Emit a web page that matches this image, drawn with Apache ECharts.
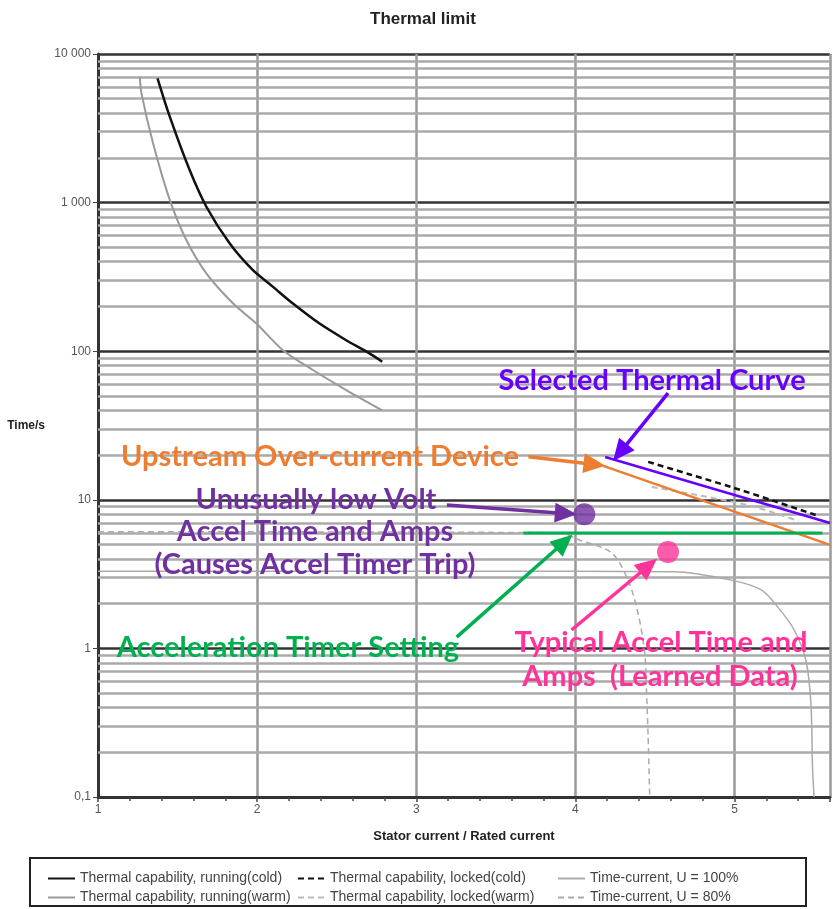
<!DOCTYPE html>
<html>
<head>
<meta charset="utf-8">
<script src="https://cdn.jsdelivr.net/npm/echarts@6/dist/echarts.min.js"></script>
<style>
html, body { margin: 0; padding: 0; background: #fff; }
#el { width: 833px; height: 909px; }
</style>
</head>
<body>
<div id="el"></div>
<script>
// axis ticks
const xTicks = [1, 2, 3, 4, 5];
const yTicks = [0.1, 1, 10, 100, 1000, 10000];
const yTickLabels = ['0,1', '1', '10', '100', '1 000', '10 000'];
const minorSteps = [2, 3, 4, 5, 6, 7, 8, 9];

// thermal curves (x = stator / rated current, y = time in s)
const runColdX = [1.374, 1.451, 1.576, 1.681, 1.827, 1.972, 2.098, 2.223, 2.390, 2.557, 2.703, 2.786];
const runColdY = [6860, 3790, 1656, 938, 532, 352, 272, 210, 154, 119, 97, 85];
const runWarmX = [1.263, 1.273, 1.346, 1.451, 1.555, 1.681, 1.848, 1.994, 2.160, 2.348, 2.557, 2.786];
const runWarmY = [7030, 5450, 2505, 1042, 560, 334, 210, 154, 102, 75, 55, 40];
const lockColdX = [4.457, 4.72, 4.978, 5.25, 5.51];
const lockColdY = [18.0, 14.8, 12.2, 9.8, 7.9];
const lockWarmX = [4.48, 4.80, 5.12, 5.40];
const lockWarmY = [12.2, 10.6, 9.0, 7.2];
const tc100X = [1.0, 4.0, 4.62, 4.98, 5.17, 5.27, 5.375, 5.448, 5.48, 5.49, 5.50];
const tc100Y = [3.3, 3.3, 3.28, 2.88, 2.47, 1.91, 1.33, 0.835, 0.427, 0.16, 0.1];
const tc80X = [1.0, 3.9, 4.018, 4.227, 4.33, 4.394, 4.436, 4.446, 4.457, 4.467];
const tc80Y = [6.1, 6.0, 5.4, 4.4, 2.9, 1.72, 0.93, 0.55, 0.255, 0.1];

// annotation lines / points
const selectedX = [4.187, 5.6];
const selectedY = [19.4, 6.98];
const upstreamX = [4.175, 5.6];
const upstreamY = [16.9, 4.97];
const timerX = [3.674, 5.552];
const timerY = [5.98, 5.98];
const lowVoltPoint = [4.056, 8.0];
const typicalPoint = [4.582, 4.46];

// arrows [from, to]
const arrowSelected = [[4.582, 52.3], [4.28, 20.8]];
const arrowUpstream = [[3.705, 19.5], [4.12, 17.3]];
const arrowLowVolt = [[3.192, 9.23], [3.94, 8.1]];
const arrowTimer = [[3.254, 1.19], [3.93, 5.2]];
const arrowTypical = [[3.976, 1.33], [4.46, 3.6]];

const names = [
    'Thermal capability, running(cold)',
    'Thermal capability, running(warm)',
    'Thermal capability, locked(cold)',
    'Thermal capability, locked(warm)',
    'Time-current, U = 100%',
    'Time-current, U = 80%'
];

const zip = (xs, ys) => xs.map((x, i) => [x, ys[i]]);

// minor log grid lines (2..9 in every decade)
const minorLines = [];
yTicks.slice(0, -1).forEach(d => minorSteps.forEach(m => minorLines.push({ yAxis: +(d * m).toPrecision(3) })));

const curve = (name, xs, ys, color, width, type, z) => ({
    name: name,
    type: 'line',
    data: zip(xs, ys),
    symbol: 'none',
    smooth: 0.3,
    z: z || 3,
    itemStyle: { color: color },
    lineStyle: { color: color, width: width, type: type }
});

const arrow = (pts, color) => ({
    type: 'line',
    data: [],
    z: 6,
    markLine: {
        silent: true,
        z: 6,
        symbol: ['none', 'triangle'],
        symbolSize: [20, 22],
        label: { show: false },
        lineStyle: { color: color, width: 3.5, type: 'solid' },
        data: [[{ coord: pts[0] }, { coord: pts[1] }]]
    }
});

const annoFont = 'Lato, "Open Sans", sans-serif';
const txt = (text, x, y, color) => ({
    type: 'text',
    x: x,
    y: y,
    z: 10,
    style: {
        text: text,
        fill: color,
        font: 'bold 29px ' + annoFont,
        align: 'center',
        verticalAlign: 'middle'
    }
});

const baseFont = 'Liberation Sans, Arial, sans-serif';
const legendText = { color: '#444', fontSize: 14, lineHeight: 15, fontFamily: baseFont };
const legendBase = {
    orient: 'vertical', top: 866, height: 60, itemGap: 4, itemWidth: 27, itemHeight: 14,
    selectedMode: false, textStyle: legendText, itemStyle: { opacity: 0 }
};

let mychart = echarts.init(document.getElementById('el'));
let option = {
    animation: false,
    backgroundColor: '#fff',
    title: {
        text: 'Thermal limit',
        left: 365,
        top: 6,
        textStyle: { fontSize: 17, fontWeight: 'bold', color: '#222', fontFamily: baseFont }
    },
    grid: { left: 98, right: 1, top: 54, bottom: 112 },
    legend: [
        Object.assign({ left: 42, data: names.slice(0, 2) }, legendBase),
        Object.assign({ left: 292, data: names.slice(2, 4) }, legendBase),
        Object.assign({ left: 552, data: names.slice(4, 6) }, legendBase)
    ],
    xAxis: {
        type: 'value',
        min: 1,
        max: 5.6,
        interval: 1,
        name: 'Stator current / Rated current',
        nameLocation: 'middle',
        nameGap: 33,
        nameTextStyle: { fontSize: 13, fontWeight: 'bold', color: '#222', fontFamily: baseFont },
        axisLine: { lineStyle: { color: '#333', width: 3 } },
        axisTick: { show: true, length: 5, lineStyle: { color: '#444', width: 1.5 } },
        minorTick: { show: true, splitNumber: 5, length: 4, lineStyle: { color: '#444', width: 1.5 } },
        axisLabel: {
            color: '#555',
            fontSize: 12,
            margin: 7,
            formatter: v => xTicks.indexOf(Math.round(v * 100) / 100) >= 0 ? String(v) : ''
        },
        splitLine: { show: true, lineStyle: { color: '#999', width: 2.5 } }
    },
    yAxis: {
        type: 'log',
        logBase: 10,
        min: 0.1,
        max: 10000,
        name: 'Time/s',
        nameLocation: 'middle',
        nameRotate: 0,
        nameGap: 53,
        nameTextStyle: { fontSize: 12, fontWeight: 'bold', color: '#222', fontFamily: baseFont },
        axisLine: { show: true, lineStyle: { color: '#333', width: 3 } },
        axisTick: { show: true, length: 5, lineStyle: { color: '#444' } },
        axisLabel: {
            color: '#555',
            fontSize: 12,
            margin: 7,
            formatter: v => {
                let i = yTicks.findIndex(t => Math.abs(t - v) / t < 1e-6);
                return i >= 0 ? yTickLabels[i] : '';
            }
        },
        splitLine: { show: true, lineStyle: { color: '#333', width: 2.5 } }
    },
    series: [
        {
            type: 'line',
            data: [],
            z: 1,
            markLine: {
                silent: true,
                z: 1,
                symbol: 'none',
                label: { show: false },
                lineStyle: { color: '#aaa', width: 2.5, type: 'solid' },
                data: minorLines
            }
        },
        curve(names[0], runColdX, runColdY, '#111', 2.5, 'solid', 4),
        curve(names[1], runWarmX, runWarmY, '#999', 2, 'solid'),
        curve(names[2], lockColdX, lockColdY, '#111', 2.5, [6, 4], 4),
        curve(names[3], lockWarmX, lockWarmY, '#bbb', 2, [6, 4]),
        curve(names[4], tc100X, tc100Y, '#aaa', 1.5, 'solid'),
        curve(names[5], tc80X, tc80Y, '#aaa', 1.5, [6, 4]),
        { type: 'line', data: zip(selectedX, selectedY), symbol: 'none', z: 5, lineStyle: { color: '#6600ff', width: 2.5 } },
        { type: 'line', data: zip(upstreamX, upstreamY), symbol: 'none', z: 5, lineStyle: { color: '#ed7d31', width: 2.5 } },
        { type: 'line', data: zip(timerX, timerY), symbol: 'none', z: 5, lineStyle: { color: '#00b050', width: 3 } },
        { type: 'scatter', data: [lowVoltPoint], symbolSize: 22, z: 6, itemStyle: { color: '#7030a0' } },
        { type: 'scatter', data: [typicalPoint], symbolSize: 22, z: 6, itemStyle: { color: '#ff3399' } },
        arrow(arrowSelected, '#6600ff'),
        arrow(arrowUpstream, '#ed7d31'),
        arrow(arrowLowVolt, '#7030a0'),
        arrow(arrowTimer, '#00b050'),
        arrow(arrowTypical, '#ff3399')
    ],
    graphic: [
        { type: 'rect', shape: { x: 30, y: 858, width: 776, height: 48 }, style: { fill: 'none', stroke: '#222', lineWidth: 2 } },
        txt('Selected Thermal Curve', 652, 381, '#6600ff'),
        txt('Upstream Over-current Device', 320, 457, '#ed7d31'),
        txt('Unusually low Volt', 316, 500, '#7030a0'),
        txt('Accel Time and Amps', 315, 532, '#7030a0'),
        txt('(Causes Accel Timer Trip)', 315, 565, '#7030a0'),
        txt('Acceleration Timer Setting', 288, 648, '#00b050'),
        txt('Typical Accel Time and', 661, 643, '#ff3399'),
        txt('Amps  (Learned Data)', 660, 677, '#ff3399')
    ]
};
option && mychart.setOption(option);
</script>
</body>
</html>
